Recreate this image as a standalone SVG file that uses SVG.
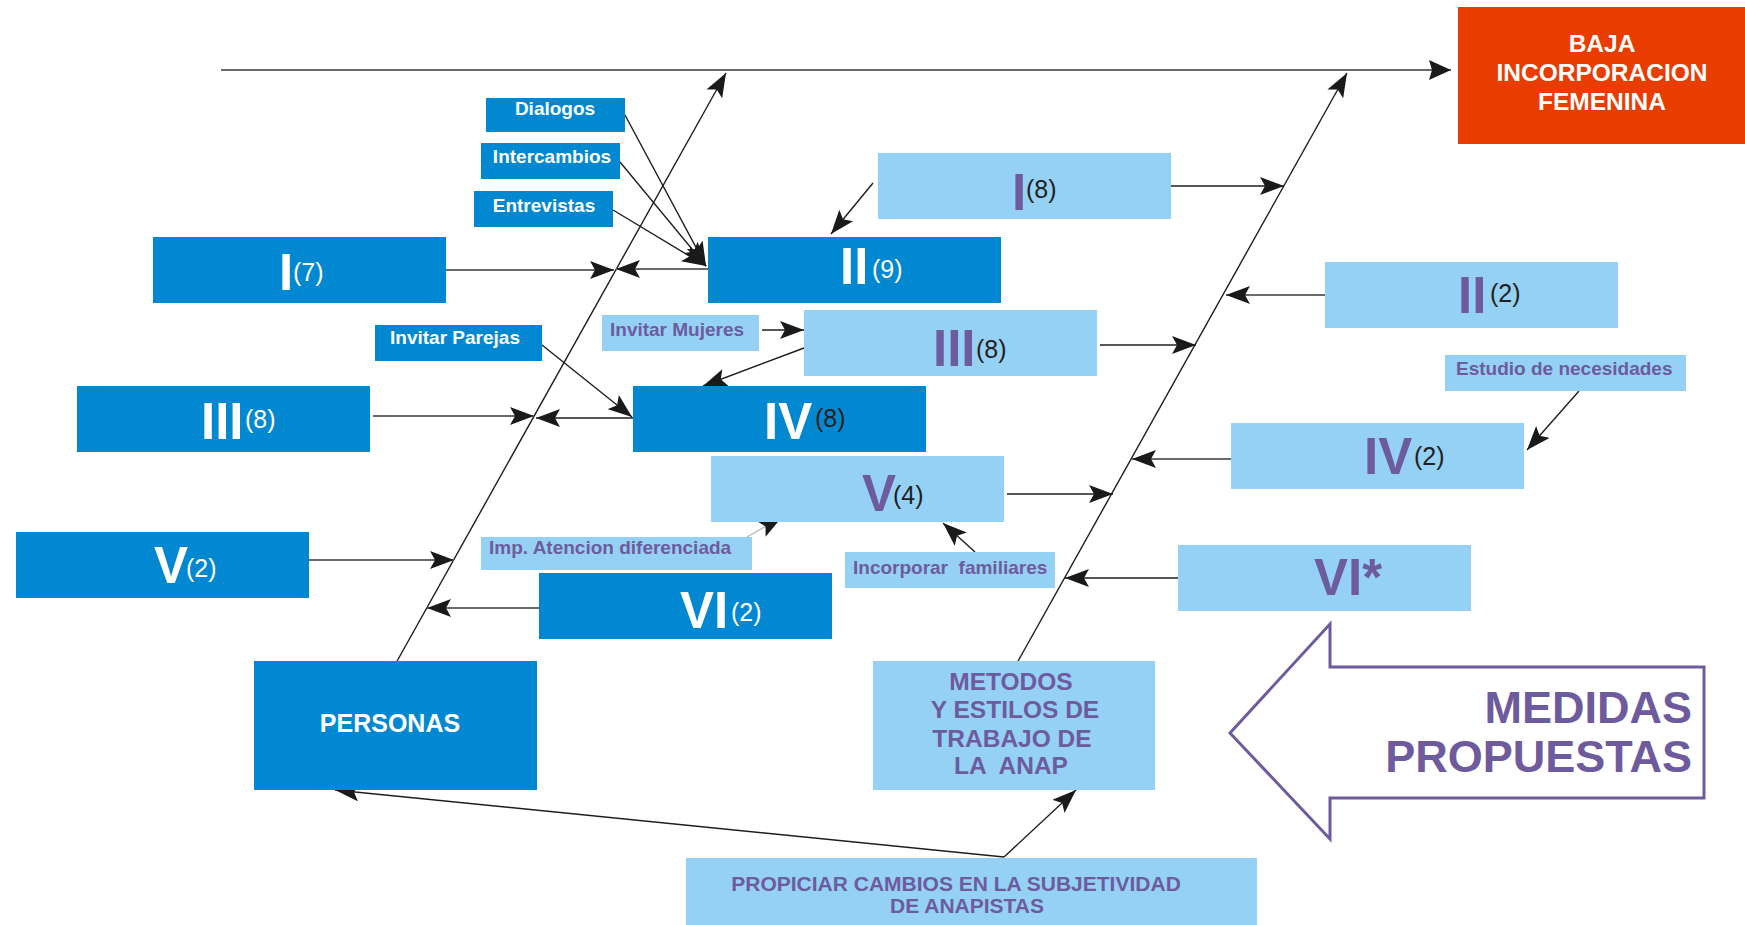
<svg xmlns="http://www.w3.org/2000/svg" width="1745" height="925" viewBox="0 0 1745 925">
<defs>
<style>
.dk{fill:#0288D1}
.lt{fill:#94D1F5}
.t{font-family:"Liberation Sans",Arial,sans-serif;font-weight:bold}
.num{font-size:51px}
.par{font-family:"Liberation Sans",Arial,sans-serif;font-weight:normal;font-size:25px}
.w{fill:#FFFFFF}
.p{fill:#6E5B9E}
.k{fill:#231F20}
.lbl{font-size:19px}
.ln{stroke:#1E1E1E;stroke-width:1.4;fill:none}
.lg{stroke:#6A6A6A;stroke-width:2.2;fill:none}
.lf{stroke:#B8B8B8;stroke-width:1.4;fill:none}
</style>
<marker id="ah" viewBox="0 0 24 18" refX="24" refY="9" markerWidth="24" markerHeight="18" markerUnits="userSpaceOnUse" orient="auto">
<path d="M0,0 L24,9 L0,18 L5,9 z" fill="#1A1A1A"/>
</marker>
<marker id="ahb" viewBox="0 0 22 20" refX="22" refY="10" markerWidth="22" markerHeight="20" markerUnits="userSpaceOnUse" orient="auto">
<path d="M0,0 L22,10 L0,20 L3,10 z" fill="#1A1A1A"/>
</marker>
</defs>
<rect width="1745" height="925" fill="#FFFFFF"/>

<g id="connectors">
<line class="lg" x1="221" y1="70" x2="1451" y2="70" marker-end="url(#ahb)"/>
<line class="ln" x1="396" y1="663" x2="726" y2="73" marker-end="url(#ah)"/>
<line class="ln" x1="1017" y1="663" x2="1347" y2="73" marker-end="url(#ah)"/>
<line class="lg" x1="446" y1="270" x2="614" y2="270" marker-end="url(#ah)"/>
<line class="lg" x1="708" y1="269" x2="616" y2="269" marker-end="url(#ah)"/>
<line class="lg" x1="373" y1="416" x2="534" y2="416" marker-end="url(#ah)"/>
<line class="ln" x1="633" y1="418" x2="536" y2="418" marker-end="url(#ah)"/>
<line class="lg" x1="309" y1="560" x2="454" y2="560" marker-end="url(#ah)"/>
<line class="lg" x1="539" y1="608" x2="427" y2="608" marker-end="url(#ah)"/>
<line class="ln" x1="625" y1="115" x2="706" y2="266" marker-end="url(#ah)"/>
<line class="ln" x1="620" y1="162" x2="706" y2="266" marker-end="url(#ah)"/>
<line class="ln" x1="613" y1="210" x2="706" y2="266" marker-end="url(#ah)"/>
<line class="ln" x1="873" y1="183" x2="831" y2="234" marker-end="url(#ah)"/>
<line class="ln" x1="542" y1="345" x2="632" y2="417" marker-end="url(#ah)"/>
<line class="ln" x1="762" y1="330" x2="804" y2="330" marker-end="url(#ah)"/>
<line class="ln" x1="804" y1="348" x2="703" y2="386" marker-end="url(#ah)"/>
<line class="lf" x1="747" y1="537" x2="782" y2="517" marker-end="url(#ah)"/>
<line class="ln" x1="975" y1="552" x2="943" y2="523" marker-end="url(#ah)"/>
<line class="ln" x1="1171" y1="186" x2="1284" y2="186" marker-end="url(#ah)"/>
<line class="lg" x1="1325" y1="295" x2="1226" y2="295" marker-end="url(#ah)"/>
<line class="ln" x1="1100" y1="345" x2="1196" y2="345" marker-end="url(#ah)"/>
<line class="lg" x1="1231" y1="459" x2="1132" y2="459" marker-end="url(#ah)"/>
<line class="ln" x1="1579" y1="391" x2="1527" y2="450" marker-end="url(#ah)"/>
<line class="ln" x1="1007" y1="494" x2="1113" y2="494" marker-end="url(#ah)"/>
<line class="ln" x1="1178" y1="578" x2="1065" y2="578" marker-end="url(#ah)"/>
<line class="ln" x1="1004" y1="857" x2="335" y2="790" marker-end="url(#ah)"/>
<line class="ln" x1="1004" y1="857" x2="1076" y2="790" marker-end="url(#ah)"/>
</g>

<g id="baja">
<rect x="1458" y="7" width="287" height="137" fill="#E83C00"/>
<text class="t w" font-size="24.5" text-anchor="middle" x="1602" y="52">BAJA</text>
<text class="t w" font-size="24.5" text-anchor="middle" x="1602" y="81">INCORPORACION</text>
<text class="t w" font-size="24.5" text-anchor="middle" x="1602" y="110">FEMENINA</text>
</g>

<g id="dialogos"><rect class="dk" x="486" y="98" width="139" height="34"/><text class="t w lbl" text-anchor="middle" x="555" y="115">Dialogos</text></g>
<g id="intercambios"><rect class="dk" x="481" y="143" width="139" height="36"/><text class="t w lbl" text-anchor="middle" x="552" y="163">Intercambios</text></g>
<g id="entrevistas"><rect class="dk" x="474" y="191" width="139" height="36"/><text class="t w lbl" text-anchor="middle" x="544" y="212">Entrevistas</text></g>
<g id="invitar-parejas"><rect class="dk" x="375" y="325" width="167" height="36"/><text class="t w lbl" text-anchor="middle" x="455" y="344">Invitar Parejas</text></g>
<g id="invitar-mujeres"><rect class="lt" x="602" y="315" width="157" height="36"/><text class="t p lbl" x="610" y="336">Invitar Mujeres</text></g>
<g id="imp-atencion"><rect class="lt" x="481" y="537" width="271" height="33"/><text class="t p lbl" x="489" y="554">Imp. Atencion diferenciada</text></g>
<g id="incorporar"><rect class="lt" x="845" y="552" width="210" height="36"/><text class="t p lbl" x="853" y="574" style="white-space:pre">Incorporar  familiares</text></g>
<g id="estudio"><rect class="lt" x="1445" y="355" width="241" height="36"/><text class="t p lbl" x="1456" y="375">Estudio de necesidades</text></g>

<g id="p-I7"><rect class="dk" x="153" y="237" width="293" height="66"/><text class="t w num" x="279" y="290">I</text><text class="par w" x="293" y="281">(7)</text></g>
<g id="p-II9"><rect class="dk" x="708" y="237" width="293" height="66"/><text class="t w num" x="840" y="284">II</text><text class="par w" x="872" y="278">(9)</text></g>
<g id="p-III8"><rect class="dk" x="77" y="386" width="293" height="66"/><text class="t w num" x="201" y="439">III</text><text class="par w" x="245" y="428">(8)</text></g>
<g id="p-IV8"><rect class="dk" x="633" y="386" width="293" height="66"/><text class="t w num" x="764" y="439">IV</text><text class="par k" x="815" y="427">(8)</text></g>
<g id="p-V2"><rect class="dk" x="16" y="532" width="293" height="66"/><text class="t w num" x="154" y="583">V</text><text class="par w" x="186" y="577">(2)</text></g>
<g id="p-VI2"><rect class="dk" x="539" y="573" width="293" height="66"/><text class="t w num" x="680" y="628">VI</text><text class="par w" x="731" y="621">(2)</text></g>

<g id="m-I8"><rect class="lt" x="878" y="153" width="293" height="66"/><text class="t p num" x="1012" y="210">I</text><text class="par k" x="1026" y="198">(8)</text></g>
<g id="m-III8"><rect class="lt" x="804" y="310" width="293" height="66"/><text class="t p num" x="933" y="366">III</text><text class="par k" x="976" y="358">(8)</text></g>
<g id="m-V4"><rect class="lt" x="711" y="456" width="293" height="66"/><text class="t p num" x="862" y="511">V</text><text class="par k" x="893" y="504">(4)</text></g>
<g id="m-II2"><rect class="lt" x="1325" y="262" width="293" height="66"/><text class="t p num" x="1458" y="313">II</text><text class="par k" x="1490" y="302">(2)</text></g>
<g id="m-IV2"><rect class="lt" x="1231" y="423" width="293" height="66"/><text class="t p num" x="1364" y="474">IV</text><text class="par k" x="1414" y="465">(2)</text></g>
<g id="m-VI"><rect class="lt" x="1178" y="545" width="293" height="66"/><text class="t p num" x="1314" y="595">VI*</text></g>

<g id="personas"><rect class="dk" x="254" y="661" width="283" height="129"/><text class="t w" font-size="25" text-anchor="middle" x="390" y="732">PERSONAS</text></g>

<g id="metodos"><rect class="lt" x="873" y="661" width="282" height="129"/>
<text class="t p" font-size="24.5" text-anchor="middle" x="1011" y="690">METODOS</text>
<text class="t p" font-size="24.5" text-anchor="middle" x="1015" y="718">Y ESTILOS DE</text>
<text class="t p" font-size="24.5" text-anchor="middle" x="1012" y="747">TRABAJO DE</text>
<text class="t p" font-size="24.5" text-anchor="middle" x="1011" y="774" style="white-space:pre">LA  ANAP</text>
</g>

<g id="propiciar"><rect class="lt" x="686" y="858" width="571" height="67"/>
<text class="t p" font-size="21" text-anchor="middle" x="956" y="891">PROPICIAR CAMBIOS EN LA SUBJETIVIDAD</text>
<text class="t p" font-size="21" text-anchor="middle" x="967" y="913">DE ANAPISTAS</text>
</g>

<g id="medidas">
<polygon points="1230,733 1330,624 1330,667 1704,667 1704,798 1330,798 1330,839" fill="#FFFFFF" stroke="#6E5B9E" stroke-width="3"/>
<text class="t p" font-size="45" text-anchor="end" x="1692" y="723">MEDIDAS</text>
<text class="t p" font-size="45" text-anchor="end" x="1692" y="772">PROPUESTAS</text>
</g>
</svg>
